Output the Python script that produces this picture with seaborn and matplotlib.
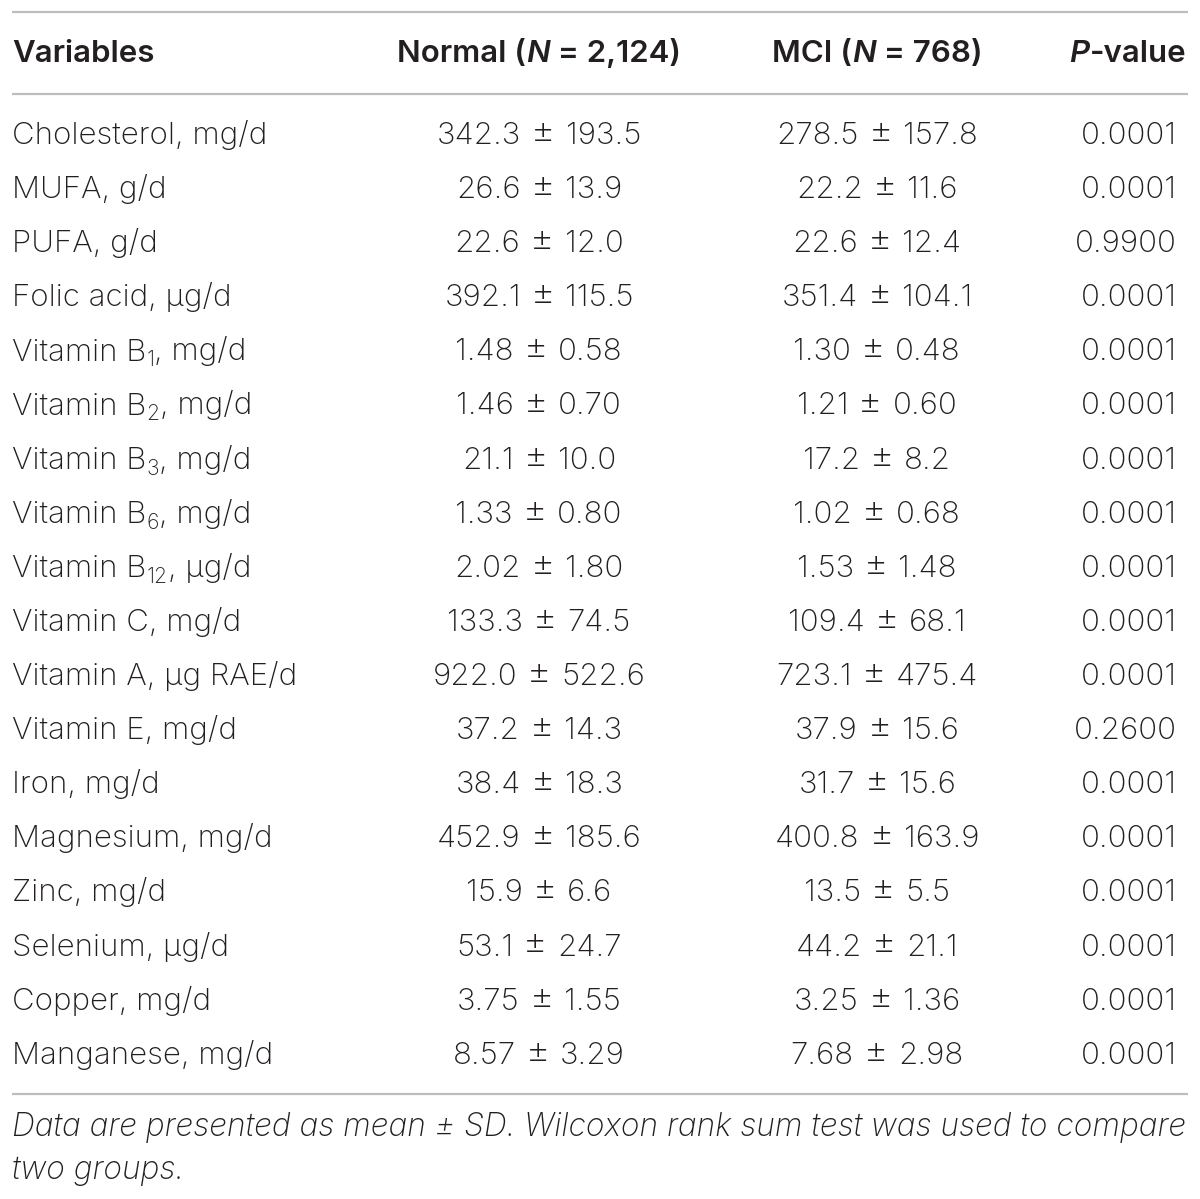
import matplotlib
matplotlib.use("Agg")
import matplotlib.pyplot as plt
import seaborn as sns

# Table content
variables = ["Cholesterol, mg/d", "MUFA, g/d", "PUFA, g/d", "Folic acid, µg/d",
             "Vitamin B|1|, mg/d", "Vitamin B|2|, mg/d", "Vitamin B|3|, mg/d",
             "Vitamin B|6|, mg/d", "Vitamin B|12|, µg/d", "Vitamin C, mg/d",
             "Vitamin A, µg RAE/d", "Vitamin E, mg/d", "Iron, mg/d",
             "Magnesium, mg/d", "Zinc, mg/d", "Selenium, µg/d", "Copper, mg/d",
             "Manganese, mg/d"]
normal_mean = ["342.3", "26.6", "22.6", "392.1", "1.48", "1.46", "21.1", "1.33", "2.02",
               "133.3", "922.0", "37.2", "38.4", "452.9", "15.9", "53.1", "3.75", "8.57"]
normal_sd = ["193.5", "13.9", "12.0", "115.5", "0.58", "0.70", "10.0", "0.80", "1.80",
             "74.5", "522.6", "14.3", "18.3", "185.6", "6.6", "24.7", "1.55", "3.29"]
mci_mean = ["278.5", "22.2", "22.6", "351.4", "1.30", "1.21", "17.2", "1.02", "1.53",
            "109.4", "723.1", "37.9", "31.7", "400.8", "13.5", "44.2", "3.25", "7.68"]
mci_sd = ["157.8", "11.6", "12.4", "104.1", "0.48", "0.60", "8.2", "0.68", "1.48",
          "68.1", "475.4", "15.6", "15.6", "163.9", "5.5", "21.1", "1.36", "2.98"]
p_values = ["0.0001", "0.0001", "0.9900", "0.0001", "0.0001", "0.0001", "0.0001", "0.0001",
            "0.0001", "0.0001", "0.0001", "0.2600", "0.0001", "0.0001", "0.0001", "0.0001",
            "0.0001", "0.0001"]
footnote = ["Data are presented as mean ± SD. Wilcoxon rank sum test was used to compare",
            "two groups."]

sns.set_theme(style="white")
plt.rcParams["font.family"] = ["Inter", "DejaVu Sans"]

INK = "#231f20"
RULE = "#bdbdbd"
FS = 22.5

fig = plt.figure(figsize=(12, 11.99), dpi=100)
ax = fig.add_axes([0, 0, 1, 1])
ax.set_xlim(0, 1200)
ax.set_ylim(1199, 0)
ax.axis("off")
renderer = fig.canvas.get_renderer()


def width_of(s, **kw):
    t = ax.text(0, 0, s, fontsize=kw.get("size", FS), weight=kw.get("weight", "light"),
                style=kw.get("style", "normal"))
    w = t.get_window_extent(renderer).width
    t.remove()
    return w


def rich(x, y, segs, ha="left"):
    # segs: list of (text, opts); opts may hold weight, style, size, dy, pad
    widths = [width_of(s, **o) + o.get("pad", 0) for s, o in segs]
    total = sum(widths)
    if ha == "center":
        x = x - total / 2
    elif ha == "right":
        x = x - total
    for (s, o), w in zip(segs, widths):
        ax.text(x + o.get("pad", 0) / 2, y + o.get("dy", 0), s, fontsize=o.get("size", FS),
                weight=o.get("weight", "light"), style=o.get("style", "normal"),
                color=INK, va="baseline", ha="left")
        x += w


# rules
for yy in (12, 94, 1094):
    ax.plot([12, 1188], [yy, yy], color=RULE, lw=1.6, solid_capstyle="butt")

# header
hb = dict(weight="semibold")
hi = dict(weight="semibold", style="italic")
hy = 62
rich(12, hy, [("Variables", hb)])
rich(539, hy, [("Normal (", hb), ("N", hi), (" = 2,124)", hb)], ha="center")
rich(877, hy, [("MCI (", hb), ("N", hi), (" = 768)", hb)], ha="center")
rich(1186, hy, [("P", hi), ("-value", hb)], ha="right")


def pm(mean, sd):
    return [(mean, {}), ("±", dict(size=FS * 1.2, pad=20)), (sd, {})]


# body rows
for i, name in enumerate(variables):
    y = 144 + i * 54.1
    if "|" in name:
        a, sub, b = name.split("|")
        rich(12, y, [(a, {}), (sub, dict(size=FS * 0.68, dy=6)), (b, {})])
    else:
        rich(12, y, [(name, {})])
    rich(539, y, pm(normal_mean[i], normal_sd[i]), ha="center")
    rich(877, y, pm(mci_mean[i], mci_sd[i]), ha="center")
    rich(1177, y, [(p_values[i], {})], ha="right")

# footnote
for j, line in enumerate(footnote):
    rich(12, 1136 + j * 43, [(line, dict(style="italic", size=FS * 1.015))])

fig.savefig("out.png", dpi=100, facecolor="white")
